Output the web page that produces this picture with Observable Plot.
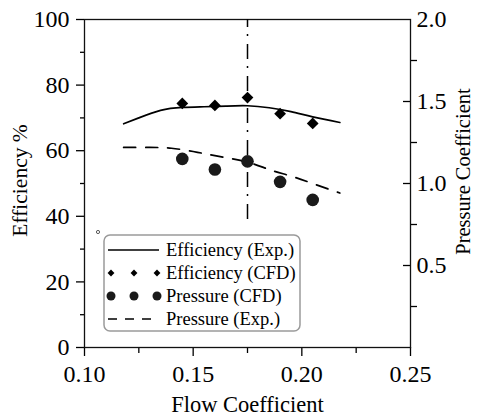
<!DOCTYPE html>
<html>
<head>
<meta charset="utf-8">
<script src="https://cdn.jsdelivr.net/npm/d3@7"></script>
<script src="https://cdn.jsdelivr.net/npm/@observablehq/plot@0.6"></script>
<style>
  html, body { margin: 0; padding: 0; background: #fff; }
  #chart svg { display: block; }
  #chart svg, #chart svg text { font-family: 'Liberation Serif', 'Times New Roman', serif !important; }
</style>
</head>
<body>
<div id="chart"></div>
<script>
// ---- data ----
const cfdFlow = [0.145, 0.160, 0.175, 0.190, 0.205];
const effCfd = [74.4, 73.8, 76.2, 71.3, 68.3];
const presCfd = [1.15, 1.085, 1.135, 1.01, 0.90];

const effExpFlow = [0.118, 0.125, 0.135, 0.145, 0.155, 0.165, 0.175, 0.185, 0.195, 0.205, 0.2175];
const effExp = [68.2, 70.0, 72.3, 73.2, 73.4, 73.6, 73.7, 73.1, 71.9, 70.3, 68.6];

const presExpFlow = [0.118, 0.13, 0.14, 0.15, 0.16, 0.175, 0.185, 0.195, 0.205, 0.2175];
const presExp = [1.22, 1.22, 1.215, 1.195, 1.17, 1.13, 1.085, 1.045, 1.0, 0.942];

const designFlow = [0.175];
const designSpan = [39, 100];

const xMajor = [0.10, 0.15, 0.20, 0.25];
const xMinor = [0.125, 0.175, 0.225];
const effMajor = [0, 20, 40, 60, 80, 100];
const effMinor = [10, 30, 50, 70, 90];
const presMajor = [0.5, 1.0, 1.5, 2.0];
const presMinor = [0.25, 0.75, 1.25, 1.75];

const legendLabels = ["Efficiency (Exp.)", "Efficiency (CFD)", "Pressure (CFD)", "Pressure (Exp.)"];

// pressure coefficient shares the y scale: 2.0 <-> 100 %
const pk = 50;
const toY = p => p * pk;

const cfd = cfdFlow.map((x, i) => ({x, eff: effCfd[i], p: toY(presCfd[i])}));
const effLine = effExpFlow.map((x, i) => ({x, y: effExp[i]}));
const presLine = presExpFlow.map((x, i) => ({x, y: toY(presExp[i])}));

const font = "'Liberation Serif', 'Times New Roman', serif";

const chart = Plot.plot({
  width: 477,
  height: 418,
  marginLeft: 84,
  marginRight: 67,
  marginTop: 19,
  marginBottom: 71,
  style: {fontFamily: font, color: "#000", background: "#fff"},
  x: {domain: [0.10, 0.25]},
  y: {domain: [0, 100]},
  marks: [
    // axes
    Plot.axisX({ticks: xMajor, tickSize: 9, tickPadding: 8, fontSize: 24, tickFormat: d3.format(".2f"), label: null, strokeWidth: 1.3}),
    Plot.axisX({ticks: xMinor, tickSize: 6, tickFormat: () => "", label: null, strokeWidth: 1.3}),
    Plot.axisY({ticks: effMajor, tickSize: 8, tickPadding: 7, fontSize: 24, tickFormat: d3.format("d"), label: null, strokeWidth: 1.3}),
    Plot.axisY({ticks: effMinor, tickSize: 4, tickFormat: () => "", label: null, strokeWidth: 1.3}),
    Plot.axisY({anchor: "right", ticks: presMajor.map(toY), tickSize: 0, tickPadding: 6, fontSize: 24, tickFormat: d => (d / pk).toFixed(1), label: null}),
    Plot.axisY({anchor: "right", ticks: presMajor.slice(0, 3).map(toY), tickSize: -8, tickFormat: () => "", label: null, strokeWidth: 1.3}),
    Plot.axisY({anchor: "right", ticks: presMinor.map(toY), tickSize: 6, tickFormat: () => "", label: null, strokeWidth: 1.3}),
    Plot.frame({stroke: "#111", strokeWidth: 1.3}),
    // titles
    Plot.text(["Flow Coefficient"], {frameAnchor: "bottom", dy: 57, lineAnchor: "middle", textAnchor: "middle", fontSize: 22.5, fill: "#000"}),
    Plot.text(["Efficiency %"], {frameAnchor: "left", dx: -64, dy: -3, rotate: -90, textAnchor: "middle", lineAnchor: "middle", fontSize: 21.5, fill: "#000"}),
    Plot.text(["Pressure Coefficient"], {frameAnchor: "right", dx: 53, dy: -12, rotate: -90, textAnchor: "middle", lineAnchor: "middle", fontSize: 20.5, fill: "#000"}),
    // design point line
    Plot.ruleX(designFlow, {y1: designSpan[0], y2: designSpan[1], stroke: "#000", strokeWidth: 1.5, strokeDasharray: "15,8,2,7"}),
    // experimental curves
    Plot.line(effLine, {x: "x", y: "y", curve: "natural", stroke: "#000", strokeWidth: 1.7}),
    Plot.line(presLine, {x: "x", y: "y", curve: "natural", stroke: "#000", strokeWidth: 1.7, strokeDasharray: "12,10"}),
    // CFD points
    Plot.dot(cfd, {x: "x", y: "eff", symbol: "diamond2", r: 5.3, fill: "#000", stroke: "none"}),
    Plot.dot(cfd, {x: "x", y: "p", symbol: "circle", r: 6.3, fill: "#1a1a1a", stroke: "none"})
  ]
});

document.getElementById("chart").appendChild(chart);

// legend inside the plot
const svg = d3.select(chart);
const lg = svg.append("g").attr("font-family", font).attr("font-size", 18.5).attr("text-anchor", "start");
lg.append("circle").attr("cx", 98).attr("cy", 232).attr("r", 1.6).attr("fill", "none").attr("stroke", "#333").attr("stroke-width", 0.8);
lg.append("rect").attr("x", 104).attr("y", 235).attr("width", 196).attr("height", 96)
  .attr("rx", 6).attr("fill", "#fff").attr("stroke", "#9a9a9a").attr("stroke-width", 1.5);
const rows = [250, 273, 296, 319];
const sx = [111, 134, 157];
// row 0: solid line
lg.append("line").attr("x1", 108).attr("x2", 159).attr("y1", rows[0]).attr("y2", rows[0]).attr("stroke", "#000").attr("stroke-width", 1.5);
// row 1: diamonds
const dsym = d3.symbol(d3.symbolDiamond2, 30);
sx.forEach(x => lg.append("path").attr("d", dsym()).attr("transform", `translate(${x},${rows[1]})`).attr("fill", "#000"));
// row 2: circles
sx.forEach(x => lg.append("circle").attr("cx", x).attr("cy", rows[2]).attr("r", 4.5).attr("fill", "#1a1a1a"));
// row 3: dashed
lg.append("line").attr("x1", 108).attr("x2", 159).attr("y1", rows[3]).attr("y2", rows[3]).attr("stroke", "#000").attr("stroke-width", 1.5).attr("stroke-dasharray", "9,8");
legendLabels.forEach((t, i) => lg.append("text").attr("x", 166).attr("y", rows[i]).attr("dy", "0.35em").attr("text-anchor", "start").attr("fill", "#000").text(t));
</script>
</body>
</html>
